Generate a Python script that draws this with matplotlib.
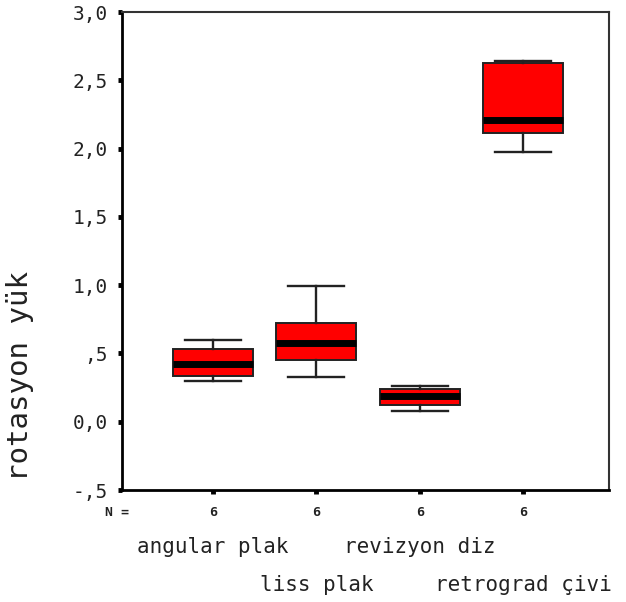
import matplotlib
matplotlib.use("Agg")
import matplotlib.pyplot as plt
from matplotlib.ticker import FixedLocator, FuncFormatter
import matplotlib.transforms as mtransforms

# Group names and box-plot summary statistics
categories = ["angular plak", "liss plak", "revizyon diz", "retrograd çivi"]
n_counts = [6, 6, 6, 6]
whisker_low = [0.298, 0.325, 0.076, 1.972]
quartile1 = [0.335, 0.452, 0.122, 2.111]
medians = [0.424, 0.577, 0.190, 2.209]
quartile3 = [0.530, 0.720, 0.237, 2.628]
whisker_high = [0.598, 0.993, 0.259, 2.638]

y_ticks = [-0.5, 0.0, 0.5, 1.0, 1.5, 2.0, 2.5, 3.0]
y_label = "rotasyon yük"

MONO = "DejaVu Sans Mono"

fig = plt.figure(figsize=(6.26, 6.02), dpi=100)
ax = fig.add_axes([0.1949, 0.186, 0.7779, 0.794])

stats = []
for i, name in enumerate(categories):
    stats.append(dict(label=name, whislo=whisker_low[i], q1=quartile1[i],
                      med=medians[i], q3=quartile3[i], whishi=whisker_high[i],
                      fliers=[]))

positions = list(range(1, len(categories) + 1))
ax.bxp(stats, positions=positions, widths=0.775, patch_artist=True,
       showfliers=False,
       boxprops=dict(facecolor="#ff0000", edgecolor="#222222", linewidth=1.4),
       medianprops=dict(color="black", linewidth=5.0, solid_capstyle="butt"),
       whiskerprops=dict(color="#222222", linewidth=1.7),
       capprops=dict(color="#222222", linewidth=1.7),
       capwidths=0.54)

ax.set_xlim(0.12, 4.83)
ax.set_ylim(-0.5, 3.0)

def comma_fmt(v, _pos):
    s = f"{v:.1f}".replace(".", ",")
    if s.startswith("0,") and v != 0:
        s = s[1:]
    if s.startswith("-0,"):
        s = "-" + s[2:]
    return s

ax.yaxis.set_major_locator(FixedLocator(y_ticks))
ax.yaxis.set_major_formatter(FuncFormatter(comma_fmt))
ax.tick_params(axis="y", direction="out", length=3, width=3.5, pad=7,
               labelsize=14, colors="black")
for lbl in ax.get_yticklabels():
    lbl.set_fontfamily(MONO)
    lbl.set_color("#222222")

ax.set_xticks(positions)
ax.set_xticklabels([])
ax.tick_params(axis="x", direction="out", length=3, width=3.5)

for side in ["left", "bottom"]:
    ax.spines[side].set_linewidth(2.0)
for side in ["top", "right"]:
    ax.spines[side].set_linewidth(1.5)
    ax.spines[side].set_color("#333333")

# Axis title, centred on its own point left of the tick labels
fig.text(20 / 626, 1 - 376 / 602, y_label, rotation=90, fontfamily=MONO,
         fontsize=21, color="#222222", ha="center", va="center")

# Sample sizes and staggered group labels below the axis
trans = mtransforms.blended_transform_factory(ax.transData, fig.transFigure)
ax.text(0.12 - 17 / 103.3, 1 - 512 / 602, "N =", transform=trans,
        fontfamily=MONO, fontsize=9.5, fontweight="bold", ha="left",
        va="center", color="#222222")
for i, (pos, n) in enumerate(zip(positions, n_counts)):
    ax.text(pos, 1 - 512 / 602, str(n), transform=trans, fontfamily=MONO,
            fontsize=9.5, fontweight="bold", ha="center", va="center",
            color="#222222")
    row_y = 547 if i % 2 == 0 else 585
    ax.text(pos, 1 - row_y / 602, categories[i], transform=trans,
            fontfamily=MONO, fontsize=15, ha="center", va="center",
            color="#222222")

fig.savefig("out.png", dpi=100)
